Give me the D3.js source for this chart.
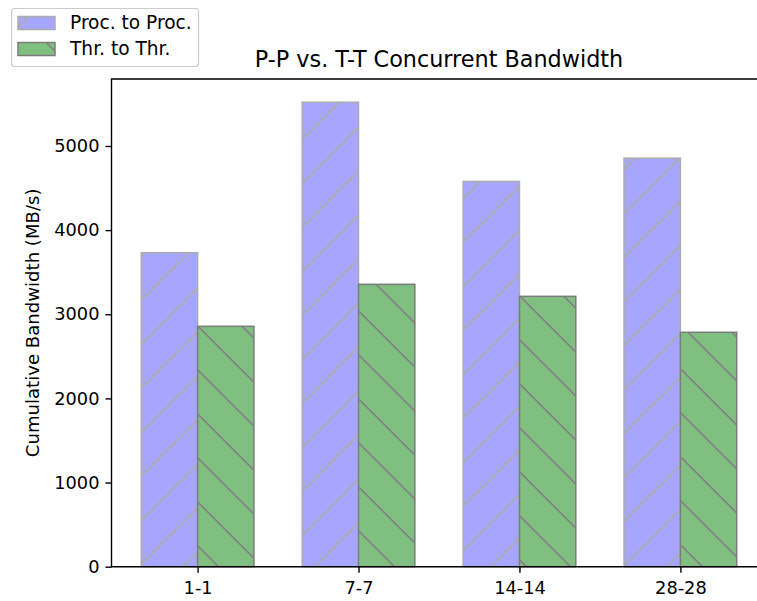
<!DOCTYPE html>
<html>
<head>
<meta charset="utf-8">
<script src="https://cdn.jsdelivr.net/npm/d3@7"></script>
<style>
  body { margin: 0; background: #fff; }
  svg text { font-family: "DejaVu Sans", sans-serif; fill: #000; }
</style>
</head>
<body>
<svg id="chart" width="757" height="601"></svg>
<script>
// Concurrent bandwidth per pairing, MB/s
const categories = ["1-1", "7-7", "14-14", "28-28"];
const procToProc = [3732, 5520, 4579, 4855];
const thrToThr = [2857, 3356, 3213, 2786];
const yTicks = [0, 1000, 2000, 3000, 4000, 5000];
const seriesNames = ["Proc. to Proc.", "Thr. to Thr."];

const svg = d3.select("#chart");
const barWidth = 0.35;

const x = d3.scaleLinear().domain([-0.535, 3.535]).range([111.5, 766.5]);
const y = d3.scaleLinear().domain([0, 5796]).range([566.7, 79]);

const series = [
  { name: seriesNames[0], values: procToProc, offset: -barWidth, fill: "#a6a6ff", edge: "#acacac", hatch: "hatchFwd" },
  { name: seriesNames[1], values: thrToThr, offset: 0, fill: "#7fbf7f", edge: "#7c7c7c", hatch: "hatchBack" }
];

// Hatch patterns anchored to the canvas
const defs = svg.append("defs");
defs.append("pattern")
  .attr("id", "hatchFwd").attr("patternUnits", "userSpaceOnUse")
  .attr("x", 0).attr("y", 0).attr("width", 44).attr("height", 44)
  .append("path")
  .attr("d", "M-10,11.5L11.5,-10M-10,55.5L55.5,-10M-10,99.5L99.5,-10")
  .attr("stroke", "#acacac").attr("stroke-width", 1.7).attr("fill", "none");
defs.append("pattern")
  .attr("id", "hatchBack").attr("patternUnits", "userSpaceOnUse")
  .attr("x", 0).attr("y", 0).attr("width", 44).attr("height", 44)
  .append("path")
  .attr("d", "M-10,-13.7L54,50.3M-10,30.3L54,94.3M-10,-57.7L54,6.3")
  .attr("stroke", "#848484").attr("stroke-width", 1.7).attr("fill", "none");

// Bars
series.forEach(s => {
  const g = svg.append("g");
  const bars = g.selectAll("g").data(s.values).join("g");
  const rx = (d, i) => x(i + s.offset);
  const rw = x(barWidth) - x(0);
  bars.append("rect")
    .attr("x", rx).attr("y", d => y(d))
    .attr("width", rw).attr("height", d => y(0) - y(d))
    .attr("fill", s.fill);
  bars.append("rect")
    .attr("x", rx).attr("y", d => y(d))
    .attr("width", rw).attr("height", d => y(0) - y(d))
    .attr("fill", `url(#${s.hatch})`)
    .attr("stroke", s.edge).attr("stroke-width", 1.5);
});

// Axes
const yAxis = d3.axisLeft(y).tickValues(yTicks).tickSize(6).tickPadding(6).tickFormat(d3.format("d"));
const xAxis = d3.axisBottom(x).tickValues(d3.range(categories.length)).tickSize(6).tickPadding(5)
  .tickFormat(i => categories[i]);

const gy = svg.append("g").attr("transform", `translate(${x.range()[0]},0)`).call(yAxis);
const gx = svg.append("g").attr("transform", `translate(0,${y(0)})`).call(xAxis);
[gx, gy].forEach(g => {
  g.select(".domain").remove();
  g.selectAll(".tick line").attr("stroke", "#000").attr("stroke-width", 1.4);
  g.selectAll(".tick text").attr("font-size", "17.8px").attr("fill", "#000");
});
gx.selectAll(".tick text").attr("dy", "0.93em");

// Spines (right edge lies beyond the canvas)
const [x0, x1] = x.range();
const [yb, yt] = y.range();
svg.append("path")
  .attr("d", `M${x1},${yt}H${x0}V${yb}H${x1}`)
  .attr("fill", "none").attr("stroke", "#000").attr("stroke-width", 1.4);

// Title and axis label
svg.append("text")
  .attr("x", (x0 + x1) / 2).attr("y", 67)
  .attr("text-anchor", "middle").attr("font-size", "22.3px")
  .text("P-P vs. T-T Concurrent Bandwidth");

svg.append("text")
  .attr("transform", `translate(39,${(yb + yt) / 2}) rotate(-90)`)
  .attr("text-anchor", "middle").attr("font-size", "18.1px")
  .text("Cumulative Bandwidth (MB/s)");

// Legend
const legend = svg.append("g");
legend.append("rect")
  .attr("x", 11.5).attr("y", 8.5).attr("width", 187).attr("height", 58)
  .attr("rx", 3).attr("fill", "#fff").attr("fill-opacity", 0.8)
  .attr("stroke", "#cccccc").attr("stroke-width", 1.2);
series.forEach((s, i) => {
  const top = 16.5 + i * 26;
  legend.append("rect")
    .attr("x", 18).attr("y", top).attr("width", 37).attr("height", 13)
    .attr("fill", s.fill);
  legend.append("rect")
    .attr("x", 18).attr("y", top).attr("width", 37).attr("height", 13)
    .attr("fill", `url(#${s.hatch})`)
    .attr("stroke", s.edge).attr("stroke-width", 1.5);
  legend.append("text")
    .attr("x", 70).attr("y", top + 12.8)
    .attr("font-size", "18.6px")
    .text(s.name);
});
</script>
</body>
</html>
